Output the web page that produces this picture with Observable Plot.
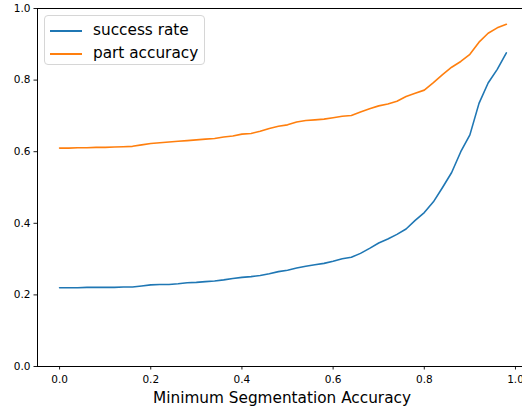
<!DOCTYPE html>
<html>
<head>
<meta charset="utf-8">
<script src="https://cdn.jsdelivr.net/npm/d3@7"></script>
<script src="https://cdn.jsdelivr.net/npm/@observablehq/plot@0.6"></script>
<style>
  html, body { margin: 0; padding: 0; background: #fff; overflow: hidden; }
  #wrap { position: relative; width: 522px; height: 408px; font-family: "DejaVu Sans", sans-serif; }
  #legend { position: absolute; left: 44px; top: 15px; width: 161px; height: 50px; box-sizing: border-box;
    border: 1px solid #d6d6d6; border-radius: 4px; background: rgba(255,255,255,0.8); }
  .item { position: absolute; left: 0; height: 20px; font-size: 15.3px; line-height: 20px; color: #000; }
  .sw { position: absolute; left: 5px; top: 10px; width: 32px; height: 2px; }
  .lab { position: absolute; left: 48px; top: 0; white-space: nowrap; }
</style>
</head>
<body>
<div id="wrap"></div>
<script>
const thresholds = [0.00,0.02,0.04,0.06,0.08,0.10,0.12,0.14,0.16,0.18,0.20,0.22,0.24,0.26,0.28,0.30,0.32,0.34,0.36,0.38,0.40,0.42,0.44,0.46,0.48,0.50,0.52,0.54,0.56,0.58,0.60,0.62,0.64,0.66,0.68,0.70,0.72,0.74,0.76,0.78,0.80,0.82,0.84,0.86,0.88,0.90,0.92,0.94,0.96,0.98];
const successRate = [0.220,0.220,0.220,0.221,0.221,0.221,0.221,0.222,0.222,0.225,0.228,0.229,0.229,0.231,0.234,0.235,0.237,0.239,0.242,0.246,0.249,0.251,0.254,0.259,0.265,0.269,0.275,0.280,0.284,0.288,0.294,0.301,0.305,0.316,0.330,0.345,0.356,0.369,0.384,0.408,0.430,0.460,0.500,0.542,0.600,0.647,0.735,0.792,0.830,0.876];
const partAccuracy = [0.610,0.610,0.611,0.611,0.612,0.612,0.613,0.614,0.615,0.619,0.623,0.625,0.627,0.629,0.631,0.633,0.635,0.637,0.641,0.644,0.649,0.651,0.657,0.665,0.671,0.675,0.683,0.687,0.689,0.691,0.695,0.699,0.701,0.711,0.720,0.728,0.733,0.741,0.754,0.763,0.772,0.793,0.815,0.836,0.852,0.872,0.906,0.931,0.946,0.956];
const seriesNames = ["success rate", "part accuracy"];
const seriesColors = ["#1f77b4", "#ff7f0e"];
const xTicks = [0, 0.2, 0.4, 0.6, 0.8, 1.0];
const yTicks = [0, 0.2, 0.4, 0.6, 0.8, 1.0];
const xLabel = "Minimum Segmentation Accuracy";

const rows = [];
thresholds.forEach((t, i) => {
  rows.push({x: t, y: successRate[i], s: seriesNames[0]});
  rows.push({x: t, y: partAccuracy[i], s: seriesNames[1]});
});

const xMin = -0.0484;
const chart = Plot.plot({
  width: 522,
  height: 408,
  marginLeft: 37,
  marginRight: 0,
  marginTop: 8,
  marginBottom: 42,
  style: {fontFamily: "DejaVu Sans, sans-serif", background: "#fff", color: "#000"},
  x: {domain: [xMin, 1.0154]},
  y: {domain: [0, 1]},
  color: {domain: seriesNames, range: seriesColors},
  marks: [
    Plot.axisX({ticks: xTicks, tickFormat: d => d.toFixed(1), tickSize: 3.5, tickPadding: 6, fontSize: 10.5, label: null, stroke: "#000", strokeWidth: 0.9}),
    Plot.axisY({ticks: yTicks, tickFormat: d => d.toFixed(1), tickSize: 3.5, tickPadding: 3.5, fontSize: 10.5, label: null, stroke: "#000", strokeWidth: 0.9}),
    Plot.ruleY([0, 1], {stroke: "#000", strokeWidth: 1}),
    Plot.ruleX([xMin], {stroke: "#000", strokeWidth: 1}),
    Plot.line(rows, {x: "x", y: "y", z: "s", stroke: "s", strokeWidth: 1.6}),
    Plot.text([xLabel], {frameAnchor: "bottom", dy: 36, dx: 2, fontSize: 15.3, fill: "#000"})
  ]
});

const wrap = document.getElementById("wrap");
wrap.appendChild(chart);
const legend = document.createElement("div");
legend.id = "legend";
seriesNames.forEach((name, i) => {
  const it = document.createElement("div");
  it.className = "item";
  it.style.top = (4 + i * 23) + "px";
  it.innerHTML = `<span class="sw" style="background:${seriesColors[i]}"></span><span class="lab"></span>`;
  it.querySelector(".lab").textContent = name;
  legend.appendChild(it);
});
wrap.appendChild(legend);
</script>
</body>
</html>
